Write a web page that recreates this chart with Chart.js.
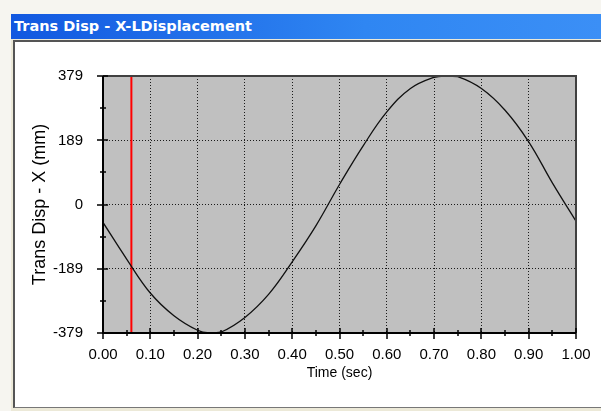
<!DOCTYPE html>
<html>
<head>
<meta charset="utf-8">
<script src="https://cdn.jsdelivr.net/npm/chart.js@4.4.0/dist/chart.umd.min.js"></script>
<style>
  html,body{margin:0;padding:0;background:#f6f5f0;}
  #wrap{position:relative;width:601px;height:411px;overflow:hidden;}
  #titlebar{position:absolute;left:11px;top:14px;width:590px;height:25px;background:linear-gradient(to right,#1258e0,#2f86f2 60%,#3b8ff6);color:#fff;font:bold 14.5px "DejaVu Sans",sans-serif;line-height:25px;padding-left:3px;box-sizing:border-box;}
  #frame{position:absolute;left:11px;top:39px;width:590px;height:372px;background:#ece9d8;}
  #inner{position:absolute;left:2px;top:1px;right:0;bottom:3px;background:#fff;border-top:2px solid #555;border-left:2px solid #555;border-bottom:1px solid #777;}
  #chart{position:absolute;left:0;top:0;}
</style>
</head>
<body>
<div id="wrap">
  <div id="titlebar">Trans Disp - X-LDisplacement</div>
  <div id="frame"><div id="inner"></div></div>
  <canvas id="chart" width="601" height="411"></canvas>
</div>
<script>
// values
var times=[0,0.05,0.1,0.15,0.2,0.225,0.25,0.3,0.35,0.4,0.45,0.5,0.55,0.6,0.65,0.7,0.725,0.75,0.8,0.85,0.9,0.95,1.0]
var disp=[-53,-161,-261,-328,-371,-379,-376,-333,-265,-169,-63,59,173,273,342,375,379,377,342,278,185,64,-49]
var cursorTime=0.06
var xTicks=[0,0.1,0.2,0.3,0.4,0.5,0.6,0.7,0.8,0.9,1.0]
var xMinor=[0.05,0.15,0.25,0.35,0.45,0.55,0.65,0.75,0.85,0.95]
var yTicks=[-379,-189,0,189,379]
var yMinor=[-284,-95,95,284]

var curve=[]
for(var i=0;i<times.length;i++){
    curve.push({x:times[i],y:disp[i]})
}
var cursor=[{x:cursorTime,y:yTicks[0]},{x:cursorTime,y:yTicks[yTicks.length-1]}]

var plotFrame={
    id:'plotFrame',
    beforeDraw:function(chart){
        var a=chart.chartArea, ctx=chart.ctx
        ctx.save()
        ctx.fillStyle='#c0c0c0'
        ctx.fillRect(a.left,a.top,a.right-a.left,a.bottom-a.top)
        ctx.restore()
    },
    afterDraw:function(chart){
        var a=chart.chartArea, ctx=chart.ctx
        var xs=chart.scales.x, ys=chart.scales.y
        ctx.save()
        // top and right border
        ctx.strokeStyle='#404040'
        ctx.lineWidth=2
        ctx.beginPath()
        ctx.moveTo(a.left,a.top); ctx.lineTo(a.right,a.top); ctx.lineTo(a.right,a.bottom)
        ctx.stroke()
        // axes
        ctx.strokeStyle='#000'
        ctx.beginPath()
        ctx.moveTo(a.left,a.top); ctx.lineTo(a.left,a.bottom); ctx.lineTo(a.right,a.bottom)
        ctx.stroke()
        // tick marks crossing the axes
        ctx.lineWidth=1.5
        ctx.beginPath()
        xTicks.forEach(function(v){
            var px=Math.round(xs.getPixelForValue(v))
            ctx.moveTo(px,a.bottom-5); ctx.lineTo(px,a.bottom+6)
        })
        xMinor.forEach(function(v){
            var px=Math.round(xs.getPixelForValue(v))
            ctx.moveTo(px,a.bottom-3); ctx.lineTo(px,a.bottom+3)
        })
        yTicks.forEach(function(v){
            var py=Math.round(ys.getPixelForValue(v))
            ctx.moveTo(a.left-6,py); ctx.lineTo(a.left+5,py)
        })
        yMinor.forEach(function(v){
            var py=Math.round(ys.getPixelForValue(v))
            ctx.moveTo(a.left-3,py); ctx.lineTo(a.left+3,py)
        })
        ctx.stroke()
        ctx.restore()
    }
}

var mychart=document.getElementById('chart').getContext('2d')
var chart=new Chart(mychart,{
    type:'line',
    data:{
        datasets:[
            {
                label:'Trans Disp - X',
                data:curve,
                borderColor:'#101010',
                borderWidth:1.3,
                pointRadius:0,
                tension:0.4,
                fill:false
            },
            {
                label:'cursor',
                data:cursor,
                borderColor:'#ff0000',
                borderWidth:2,
                pointRadius:0,
                fill:false
            }
        ]
    },
    plugins:[plotFrame],
    options:{
        responsive:false,
        animation:false,
        events:[],
        layout:{padding:{left:25,top:76,right:25,bottom:0}},
        plugins:{legend:{display:false},tooltip:{enabled:false}},
        scales:{
            x:{
                type:'linear',
                min:0,max:1,
                afterBuildTicks:function(s){ s.ticks=xTicks.map(function(v){return {value:v}}) },
                afterFit:function(s){ s.height=78; s.paddingLeft=0; s.paddingRight=0 },
                grid:{color:'#1a1a1a',lineWidth:1,drawTicks:false},
                border:{display:false},
                ticks:{
                    autoSkip:false,maxRotation:0,padding:13,color:'#000',
                    font:{family:'"Liberation Sans", Arial, sans-serif',size:15},
                    callback:function(v){ return Number(v).toFixed(2) }
                },
                title:{display:true,text:'Time (sec)',color:'#000',
                    font:{family:'"Liberation Sans", Arial, sans-serif',size:14},
                    padding:{top:0,bottom:29}}
            },
            y:{
                type:'linear',
                min:-379,max:379,
                afterBuildTicks:function(s){ s.ticks=yTicks.map(function(v){return {value:v}}) },
                afterFit:function(s){ s.width=78 },
                grid:{color:'#1a1a1a',lineWidth:1,drawTicks:false},
                border:{display:false},
                ticks:{
                    padding:20,color:'#000',
                    font:{family:'"Liberation Sans", Arial, sans-serif',size:15}
                },
                title:{display:true,text:'Trans Disp - X (mm)',color:'#000',
                    font:{family:'"Liberation Sans", Arial, sans-serif',size:18},
                    padding:{top:4,bottom:0}}
            }
        }
    }
})
// dotted grid lines
chart.options.scales.x.border.dash=[1,2]
chart.options.scales.y.border.dash=[1,2]
chart.options.scales.x.grid.borderDash=[1,2]
chart.update()
</script>
</body>
</html>
